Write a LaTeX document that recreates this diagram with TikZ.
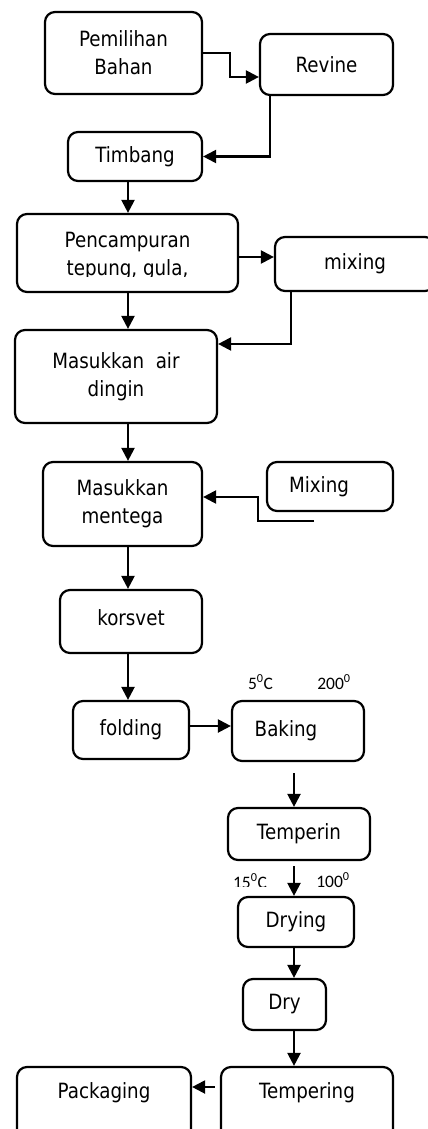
\documentclass[tikz,border=0pt]{standalone}
\usepackage{fontspec}
\setmainfont{DejaVu Sans}[FakeStretch=0.87]
\newfontfamily\lblfont{Carlito}
\usetikzlibrary{arrows.meta,calc}
\begin{document}
\begin{tikzpicture}[x=1pt,y=-1pt,
  box/.style={draw,line width=2.2pt,rounded corners=10pt,inner sep=0pt,align=center,font=\fontsize{21}{28}\selectfont},
  txt/.style={inner sep=0pt,align=center,font=\fontsize{21}{28}\selectfont},
  arr/.style={line width=2.2pt,-{Triangle[length=13pt,width=13pt]}},
  lbl/.style={font=\lblfont\fontsize{17.5}{20}\selectfont,anchor=base,inner sep=0pt}]
\useasboundingbox (0,0) rectangle (428,1129);
\clip (0,0) rectangle (428,1129);

\node[box,minimum width=157pt,minimum height=82pt] (pem) at (123.5,53) {Pemilihan\\Bahan};
\node[box,minimum width=133pt,minimum height=61pt] (rev) at (326.5,64.5) {Revine};
\node[box,minimum width=134pt,minimum height=49pt] (tim) at (135,156.5) {Timbang};
\node[box,minimum width=221pt,minimum height=78pt] (pen) at (127.5,253) {};
\begin{scope}
  \clip (17,214) rectangle (238,276.5);
  \node[txt] (pentext) at (127.5,256.5) {Pencampuran\\tepung, gula,};
\end{scope}
\node[box,minimum width=160pt,minimum height=54pt] (mix1) at (355,264) {mixing};
\node[box,minimum width=202pt,minimum height=93pt] (air) at (116,376.5) {Masukkan~~air\\dingin};
\node[box,minimum width=159pt,minimum height=84pt] (men) at (122.5,504) {Masukkan\\mentega};
\node[box,minimum width=126pt,minimum height=49pt] (mix2) at (330,486.5) {Mixing\hspace*{22pt}};
\node[box,minimum width=142pt,minimum height=63pt] (kor) at (131,621.5) {\raisebox{4pt}[\height][\depth]{korsvet}};
\node[box,minimum width=116pt,minimum height=58pt] (fol) at (131,730) {folding};
\node[box,minimum width=132pt,minimum height=60pt] (bak) at (298,731) {Baking\hspace*{24pt}};
\node[box,minimum width=142pt,minimum height=52pt] (tem1) at (299,834) {Temperin};
\node[box,minimum width=116pt,minimum height=50pt] (dryi) at (296,922) {Drying};
\node[box,minimum width=83pt,minimum height=51pt] (dry) at (284.5,1004.5) {Dry};
\node[box,minimum width=172pt,minimum height=73pt] (tem2) at (307,1103.5) {\raisebox{10.5pt}[\height][\depth]{Tempering}};
\node[box,minimum width=174pt,minimum height=73pt] (pack) at (104,1103.5) {\raisebox{10.5pt}[\height][\depth]{Packaging}};

\node[lbl] (t1) at (260.5,689) {5\textsuperscript{0}C};
\node[lbl] (t2) at (334,689) {200\textsuperscript{0}};
\begin{scope}
  \clip (200,860) rectangle (290,886.5);
  \node[lbl] (t3) at (250,888) {15\textsuperscript{0}C};
\end{scope}
\node[lbl] (t4) at (333,887) {100\textsuperscript{0}};

\coordinate (mixend) at (314,521);

\draw[arr] (pem.east) -| (230,77) -- (rev.west |- 0,77);
\draw[arr] (rev.south -| 270,0) |- (tim.east);
\draw[arr] (tim.south -| 128,0) -- (pen.north -| 128,0);
\draw[arr] (pen.east |- 0,257) -- (mix1.west |- 0,257);
\draw[arr] (mix1.south -| 291,0) |- (air.east |- 0,344);
\draw[arr] (pen.south -| 128,0) -- (air.north -| 128,0);
\draw[arr] (air.south -| 128,0) -- (men.north -| 128,0);
\draw[arr] (mixend) -| (258,497) -- (men.east |- 0,497);
\draw[arr] (men.south -| 128,0) -- (kor.north -| 128,0);
\draw[arr] (kor.south -| 128,0) -- (fol.north -| 128,0);
\draw[arr] (fol.east |- 0,726) -- (bak.west |- 0,726);
\draw[arr] ($(bak.south -| 294,0)+(0,11)$) -- (tem1.north -| 294,0);
\draw[arr] ($(tem1.south -| 294,0)+(0,5)$) -- (dryi.north -| 294,0);
\draw[arr] (dryi.south -| 294,0) -- (dry.north -| 294,0);
\draw[arr] (dry.south -| 294,0) -- (tem2.north -| 294,0);
\draw[arr] ($(tem2.west |- 0,1087)+(-5,0)$) -- (pack.east |- 0,1087);
\end{tikzpicture}
\end{document}
